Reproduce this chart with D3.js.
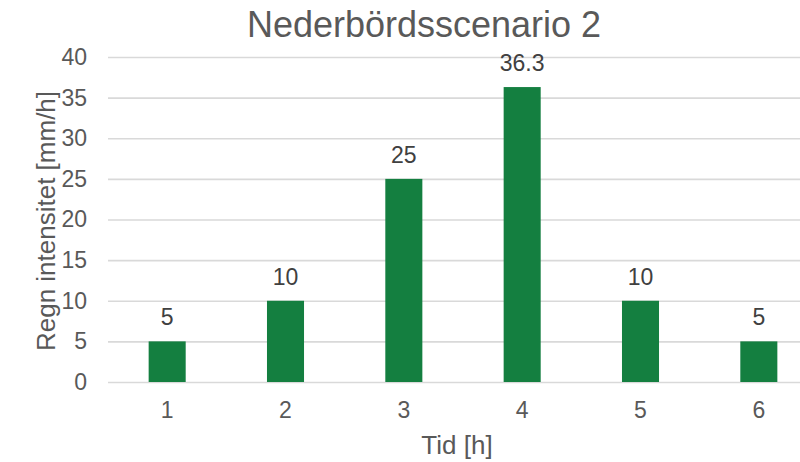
<!DOCTYPE html>
<html>
<head>
<meta charset="utf-8">
<script src="https://cdn.jsdelivr.net/npm/d3@7"></script>
<style>
  html, body { margin: 0; padding: 0; background: #fff; overflow: hidden; }
  svg { display: block; font-family: "Liberation Sans", Arial, sans-serif; }
</style>
</head>
<body>
<svg id="chart" width="800" height="462"></svg>
<script>
// Rain intensity per hour for scenario 2
const hours = ["1", "2", "3", "4", "5", "6"];
const intensity = [5, 10, 25, 36.3, 10, 5];
const yTicks = [0, 5, 10, 15, 20, 25, 30, 35, 40];

const titleText = "Nederbördsscenario 2";
const xTitle = "Tid [h]";
const yTitle = "Regn intensitet [mm/h]";

const svg = d3.select("#chart");
const textColor = "#595959";
const gridColor = "#d9d9d9";
const barColor = "#147f40";

const plot = { left: 108, right: 818, top: 57, bottom: 382 };

const x = d3.scaleBand()
  .domain(hours)
  .range([plot.left, plot.right])
  .paddingInner(0.687)
  .paddingOuter(0.3435);

const y = d3.scaleLinear()
  .domain([0, 40])
  .range([plot.bottom, plot.top]);

// horizontal gridlines + y tick labels
const yAxis = d3.axisLeft(y)
  .tickValues(yTicks)
  .tickSize(-(plot.right - plot.left))
  .tickPadding(21)
  .tickFormat(d3.format("d"));

const gy = svg.append("g")
  .attr("transform", `translate(${plot.left},0)`)
  .call(yAxis);
gy.select(".domain").remove();
gy.selectAll(".tick line").attr("stroke", gridColor).attr("stroke-width", 1.6);
gy.selectAll(".tick text")
  .attr("fill", textColor)
  .style("font-size", "23px");

// x tick labels
const xAxis = d3.axisBottom(x).tickSize(0).tickPadding(20);
const gx = svg.append("g")
  .attr("transform", `translate(0,${plot.bottom})`)
  .call(xAxis);
gx.select(".domain").remove();
gx.selectAll(".tick text")
  .attr("fill", textColor)
  .style("font-size", "23px");

// bars
svg.append("g")
  .selectAll("rect")
  .data(intensity)
  .join("rect")
  .attr("x", (d, i) => x(hours[i]))
  .attr("width", x.bandwidth())
  .attr("y", d => y(d))
  .attr("height", d => y(0) - y(d))
  .attr("fill", barColor);

// value labels
svg.append("g")
  .selectAll("text")
  .data(intensity)
  .join("text")
  .attr("x", (d, i) => x(hours[i]) + x.bandwidth() / 2)
  .attr("y", d => y(d) - 16)
  .attr("text-anchor", "middle")
  .attr("fill", "#404040")
  .style("font-size", "23px")
  .text(d => d);

// chart title
svg.append("text")
  .attr("x", 424)
  .attr("y", 37)
  .attr("text-anchor", "middle")
  .attr("fill", textColor)
  .style("font-size", "36px")
  .text(titleText);

// axis titles
svg.append("text")
  .attr("x", 457)
  .attr("y", 454)
  .attr("text-anchor", "middle")
  .attr("fill", textColor)
  .style("font-size", "26px")
  .text(xTitle);

svg.append("text")
  .attr("transform", "translate(55,221) rotate(-90)")
  .attr("text-anchor", "middle")
  .attr("fill", textColor)
  .style("font-size", "26px")
  .text(yTitle);
</script>
</body>
</html>
